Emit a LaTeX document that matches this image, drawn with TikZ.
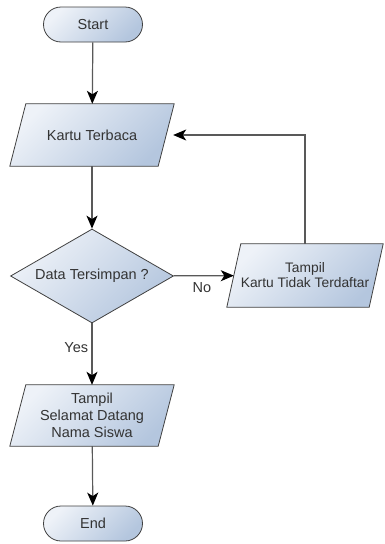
\documentclass[tikz,border=0pt]{standalone}
\usepackage{fontspec}
\setmainfont{Liberation Sans}
\usetikzlibrary{shapes.geometric,arrows.meta,positioning}

\definecolor{lineGray}{HTML}{595959}
\definecolor{edgeGray}{HTML}{404040}
\definecolor{textGray}{HTML}{333333}
\definecolor{fillLight}{HTML}{EEF2F8}
\definecolor{fillDark}{HTML}{B4C6DE}

\pgfdeclarelayer{bg}
\pgfsetlayers{bg,main}

\tikzset{
  txt/.style={text=textGray, align=center,
    font=\fontsize{14.5}{17}\selectfont, inner sep=2pt},
  fillbox/.style={draw=edgeGray, line width=0.8pt,
    top color=fillLight, bottom color=fillDark, shading angle=45},
  box/.style={txt, fillbox},
  terminal/.style={box, rectangle, rounded corners=17.5pt,
    minimum width=99pt, minimum height=35pt},
  io/.style={txt, rectangle, minimum width=148pt, minimum height=62pt},
  decision/.style={box, diamond, aspect=1.7, inner sep=0pt,
    minimum width=163pt, minimum height=94pt},
  flow/.style={draw=lineGray, line width=1.2pt,
    -{Stealth[length=13pt,width=11pt,inset=3.5pt,black]}},
  lbl/.style={text=textGray, font=\fontsize{14.5}{17}\selectfont}
}

\begin{document}
\begin{tikzpicture}[x=1pt, y=-1pt]
  \useasboundingbox (0,0) rectangle (384,544);

  % --- the shapes ---
  \node[terminal] (start) at (93,24.5) {Start};
  \node[io] (kartu) at (92,135) {Kartu Terbaca};
  \node[decision] (cek) at (92,276) {Data Tersimpan ?};
  \node[io, minimum width=142pt, minimum height=63pt,
    font=\fontsize{13.8}{15}\selectfont] (gagal) at (305,275.5)
    {Tampil\\Kartu Tidak Terdaftar};
  \node[io, minimum height=61pt] (sukses) at (92,415.5)
    {Tampil\\Selamat Datang\\Nama Siswa};
  \node[terminal] (end) at (93,523.5) {End};

  % slanted input/output boxes behind their text
  \begin{pgfonlayer}{bg}
    \foreach \n/\s in {kartu/8, gagal/7, sukses/8}
      \path[fillbox] ([xshift=-\s pt]\n.south west) -- ([xshift=\s pt]\n.north west)
        -- ([xshift=\s pt]\n.north east) -- ([xshift=-\s pt]\n.south east) -- cycle;
  \end{pgfonlayer}

  % --- the connectors ---
  \draw[flow] (start) -- (kartu);
  \draw[flow] (kartu) -- (cek);
  \draw[flow] (cek) -- node[lbl, pos=0.47, below=3pt] {No} (gagal);
  \draw[flow] (cek) -- node[lbl, pos=0.4, left=0pt] {Yes} (sukses);
  \draw[flow] (sukses) -- (end);

  % back to the card reader
  \draw[flow, shorten >=7pt] (gagal.north) |- (kartu.east);
\end{tikzpicture}
\end{document}
